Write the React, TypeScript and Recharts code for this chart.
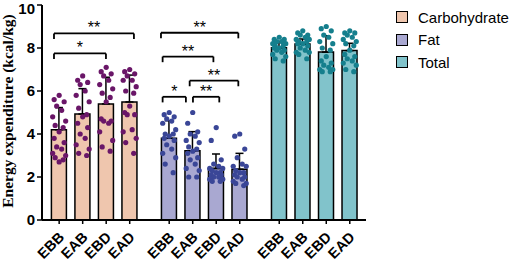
import { ComposedChart, Bar, Cell, ErrorBar, Scatter, XAxis, YAxis, ReferenceLine } from 'recharts'

const groups = ['Carbohydrate', 'Fat', 'Total']
const conditions = ['EBB', 'EAB', 'EBD', 'EAD']

const carbMeans = [4.2, 4.93, 5.4, 5.49]
const carbSD = [1.03, 1.18, 1.24, 1.25]
const fatMeans = [3.8, 3.22, 2.4, 2.36]
const fatSD = [0.82, 0.89, 0.67, 0.74]
const totalMeans = [8.01, 8.19, 7.81, 7.88]
const totalSD = [0.3, 0.23, 0.76, 0.34]

// individual subjects (high to low)
const carbDots = [
  [5.8, 5.6, 5.5, 5.3, 5.1, 4.8, 4.6, 4.4, 4.3, 4.1, 3.8, 3.6, 3.4, 3.3, 3.1, 3.0, 2.9, 2.8, 2.7],
  [6.7, 6.5, 6.4, 6.3, 6.0, 5.8, 5.5, 5.2, 4.9, 4.8, 4.5, 4.3, 4.0, 3.8, 3.5, 3.3, 3.1, 3.0],
  [7.1, 6.9, 6.8, 6.7, 6.5, 6.3, 6.1, 5.9, 5.7, 5.5, 4.7, 4.6, 4.6, 4.5, 4.1, 3.7, 3.4, 3.2],
  [7.0, 6.9, 6.8, 6.7, 6.5, 6.5, 6.2, 6.0, 5.9, 5.3, 5.0, 4.9, 4.9, 4.2, 4.1, 3.8, 3.6, 3.1],
]
const fatDots = [
  [5.0, 4.9, 4.8, 4.7, 4.6, 4.5, 4.2, 4.0, 4.0, 3.9, 3.8, 3.7, 3.5, 3.3, 3.1, 2.9, 2.6, 2.2],
  [5.0, 4.5, 4.1, 4.0, 3.9, 3.7, 3.6, 3.4, 3.3, 3.2, 3.1, 2.9, 2.8, 2.6, 2.4, 2.3, 2.0, 2.0],
  [4.3, 3.7, 2.8, 2.6, 2.5, 2.4, 2.4, 2.3, 2.2, 2.2, 2.1, 2.1, 2.0, 2.0, 1.9, 1.9, 1.8, 1.8],
  [4.0, 3.9, 3.3, 2.9, 2.6, 2.5, 2.5, 2.3, 2.2, 2.2, 2.1, 2.0, 2.0, 1.9, 1.8, 1.7, 1.7, 1.6],
]
const totalDots = [
  [8.5, 8.4, 8.4, 8.3, 8.3, 8.2, 8.2, 8.1, 8.1, 8.0, 8.0, 7.9, 7.9, 7.8, 7.7, 7.6, 7.5, 7.4],
  [8.8, 8.7, 8.6, 8.6, 8.5, 8.4, 8.4, 8.3, 8.3, 8.2, 8.2, 8.1, 8.0, 7.9, 7.8, 7.8, 7.7, 7.5],
  [9.0, 8.9, 8.8, 8.6, 8.5, 8.3, 8.2, 8.0, 7.9, 7.6, 7.4, 7.3, 7.2, 7.1, 7.0, 7.0, 6.9, 6.9],
  [8.8, 8.7, 8.7, 8.6, 8.5, 8.4, 8.3, 8.2, 8.1, 7.9, 7.7, 7.6, 7.5, 7.4, 7.3, 7.2, 7.0, 6.9],
]

// significance brackets: from/to in bar slots, height in kcal/kg
const carbBrackets = [
  { from: -0.22, to: 3.18, y: 8.68, label: '**' },
  { from: -0.22, to: 1.99, y: 7.75, label: '*' },
]
const fatBrackets = [
  { from: 4.33, to: 7.62, y: 8.71, label: '**' },
  { from: 4.4, to: 6.56, y: 7.6, label: '**' },
  { from: 5.55, to: 7.62, y: 6.48, label: '**' },
  { from: 4.4, to: 5.39, y: 5.73, label: '*' },
  { from: 5.69, to: 6.81, y: 5.73, label: '**' },
]

const yTicks = [0, 2, 4, 6, 8, 10]

const means = [carbMeans, fatMeans, totalMeans]
const sds = [carbSD, fatSD, totalSD]
const dots = [carbDots, fatDots, totalDots]
const barColors = ['#EFC6AE', '#A9A8D1', '#81C3CB']
const dotColors = ['#6A1668', '#3A4697', '#157F8D']

const STRIDE = 4.68
const JITTER = [0, -5, 5, -2.5, 2.5, -6.5, 6.5, -4, 4]
const SANS = '"Liberation Sans", Arial, sans-serif'

const rows = groups.flatMap((_, gi) =>
  conditions.map((c, ci) => ({
    x: gi * STRIDE + ci,
    label: c,
    mean: means[gi][ci],
    err: [0, sds[gi][ci]],
    gi,
  })),
)
const tickPos = rows.map((r) => r.x)
const labelAt = (v: number) => rows.find((r) => Math.abs(r.x - v) < 1e-6)?.label ?? ''

const dotData = groups.map((_, gi) =>
  conditions.flatMap((_, ci) =>
    dots[gi][ci].map((v, k) => ({ x: gi * STRIDE + ci, y: v, dx: JITTER[k % JITTER.length] })),
  ),
)

const XTick = ({ x, y, payload }: any) => {
  const ax = x + 6
  const ay = y + 12
  return (
    <text x={ax} y={ay} transform={`rotate(-45, ${ax}, ${ay})`} textAnchor="end"
      fontFamily={SANS} fontSize={14.5} fontWeight={700} fill="#000">
      {labelAt(payload.value)}
    </text>
  )
}

const brackets = [...carbBrackets, ...fatBrackets]
const DROP = 0.26

export default function App() {
  return (
    <div style={{ position: 'relative', width: 512, height: 262 }}>
      <style>{'body{margin:0}'}</style>
      <ComposedChart width={512} height={262} data={rows}
        margin={{ top: 5, right: 146, bottom: 0, left: 0 }}>
        <XAxis dataKey="x" type="number" domain={[-0.73, 13.05]} ticks={tickPos} allowDataOverflow
          height={42} tick={<XTick />} tickSize={4} interval={0}
          axisLine={{ stroke: '#000', strokeWidth: 2 }} tickLine={{ stroke: '#000', strokeWidth: 1.5 }} />
        <YAxis type="number" domain={[0, 10]} ticks={yTicks} allowDataOverflow width={42} tickSize={5}
          tick={{ fill: '#000', fontSize: 15, fontWeight: 700, fontFamily: SANS }}
          axisLine={{ stroke: '#000', strokeWidth: 2 }} tickLine={{ stroke: '#000', strokeWidth: 1.5 }}
          label={{
            content: () => (
              <text x={12.5} y={111} transform="rotate(-90, 12.5, 111)" textAnchor="middle"
                fontFamily='"Liberation Serif", "Times New Roman", serif' fontSize={15.5} fontWeight={700} fill="#000">
                Energy expenditure (kcal/kg)
              </text>
            ),
          }} />
        <Bar dataKey="mean" barSize={15} stroke="#000" strokeWidth={1.5} isAnimationActive={false}>
          {rows.map((r) => (
            <Cell key={r.x} fill={barColors[r.gi]} />
          ))}
          <ErrorBar dataKey="err" width={4} stroke="#000" strokeWidth={1.5} />
        </Bar>
        {groups.map((g, gi) => (
          <Scatter key={g} data={dotData[gi]} dataKey="y" isAnimationActive={false}
            shape={(p: any) => <circle cx={p.cx + p.payload.dx} cy={p.cy} r={2.6} fill={dotColors[gi]} />} />
        ))}
        {brackets.map((b, i) => (
          <ReferenceLine key={`h${i}`} segment={[{ x: b.from, y: b.y }, { x: b.to, y: b.y }]}
            stroke="#000" strokeWidth={1.8} ifOverflow="visible"
            label={{ value: b.label, position: 'top', offset: 0, fill: '#000', fontSize: 16, fontFamily: SANS }} />
        ))}
        {brackets.flatMap((b, i) => [
          <ReferenceLine key={`l${i}`} segment={[{ x: b.from, y: b.y }, { x: b.from, y: b.y - DROP }]}
            stroke="#000" strokeWidth={1.8} ifOverflow="visible" />,
          <ReferenceLine key={`r${i}`} segment={[{ x: b.to, y: b.y }, { x: b.to, y: b.y - DROP }]}
            stroke="#000" strokeWidth={1.8} ifOverflow="visible" />,
        ])}
      </ComposedChart>
      <div style={{ position: 'absolute', left: 396, top: 6, fontFamily: SANS, fontSize: 15, color: '#000' }}>
        {groups.map((g, gi) => (
          <div key={g} style={{ height: 22.5, display: 'flex', alignItems: 'center' }}>
            <span style={{ width: 10, height: 10, border: '1.5px solid #000', background: barColors[gi], marginRight: 10 }} />
            {g}
          </div>
        ))}
      </div>
    </div>
  )
}
